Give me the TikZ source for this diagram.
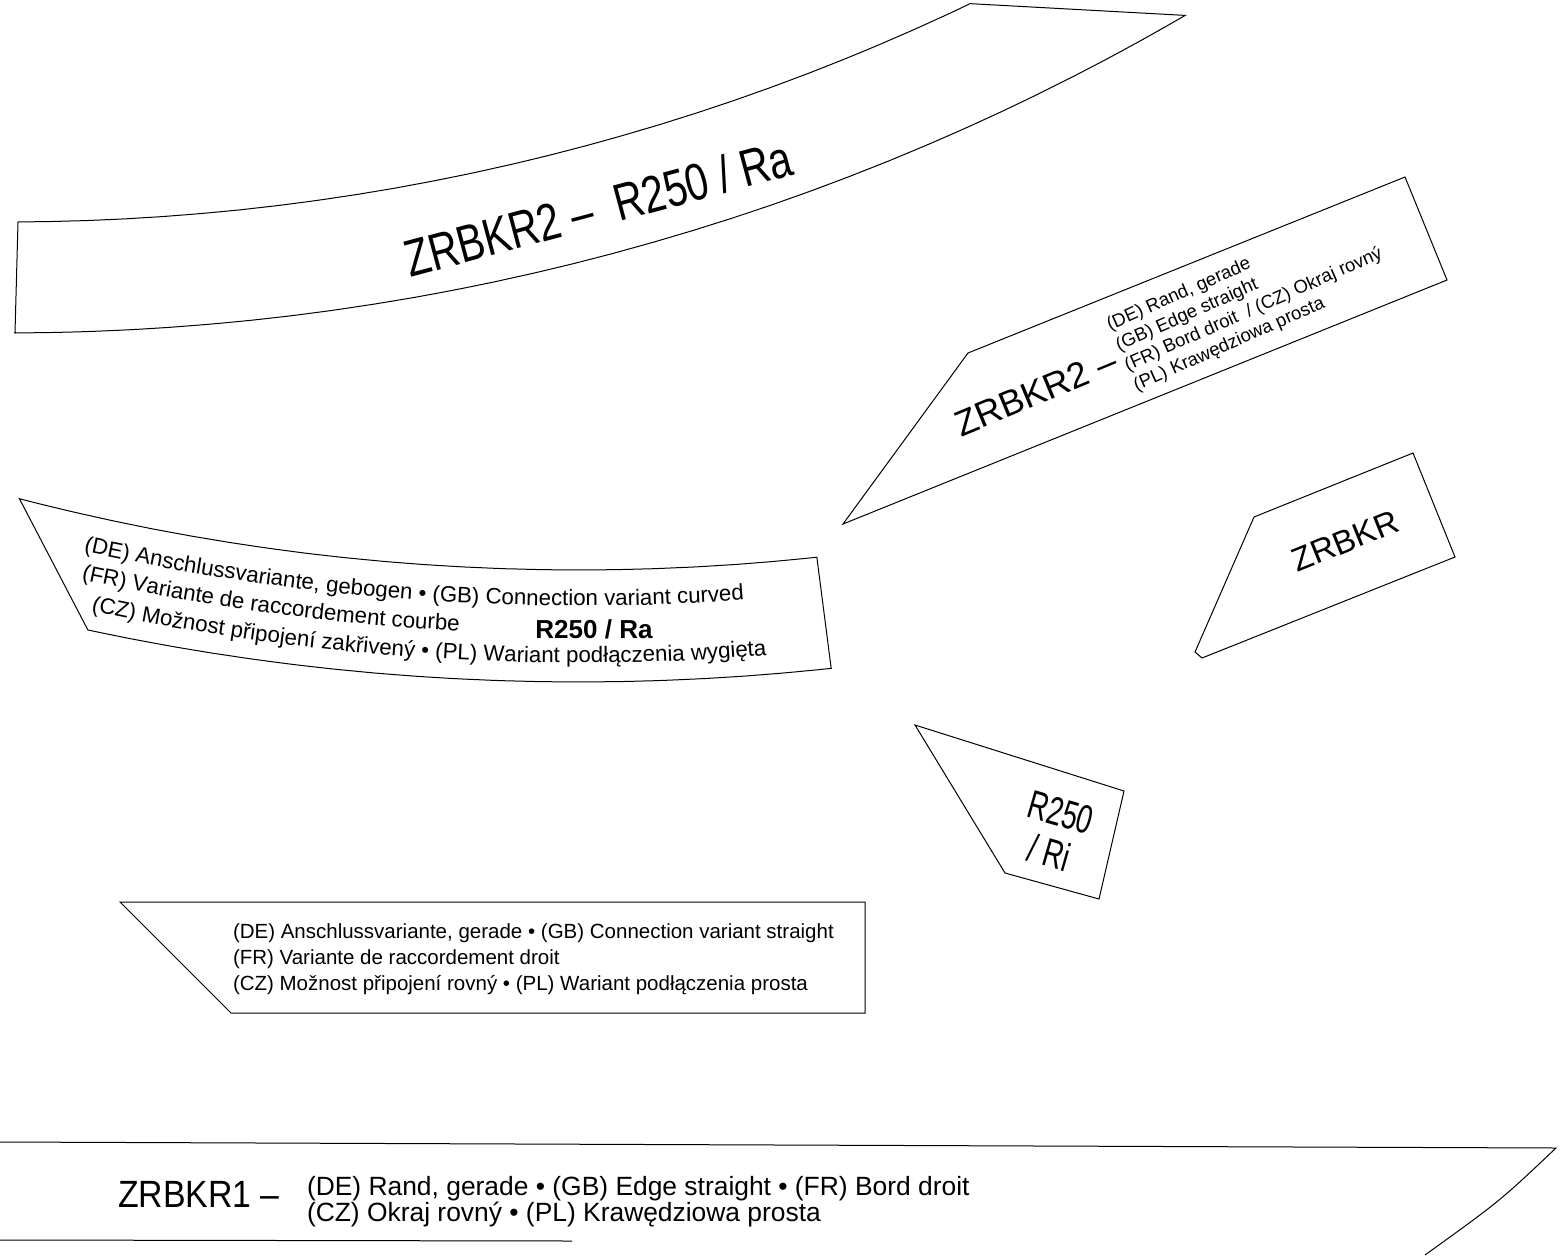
\documentclass[tikz,border=0pt]{standalone}
\usepackage{fontspec}
\setmainfont{Liberation Sans}
\usepackage{graphicx}
\usetikzlibrary{decorations.text}

\newcommand{\pxfont}[2]{\fontsize{#1}{#2}\selectfont}

\begin{document}
\begin{tikzpicture}[
    x=1pt, y=-1pt,
    outline/.style={draw, line width=1pt, line join=miter},
    lbl/.style={inner sep=0pt, outer sep=0pt},
    small label/.style={lbl, anchor=base west, font=\pxfont{20.5}{26}},
    edge label/.style={lbl, anchor=base west, font=\pxfont{26.4}{30}},
    curved text/.style={decorate, decoration={text along path, text align=left, text={|\pxfont{22.3}{26}|#1}}}
]
    \useasboundingbox (0,0) rectangle (1560,1255);

    % Curved strip, top
    \draw[outline] (18,222) -- (15,333)
        -- plot[domain=89.83:59.81, samples=90] ({8+2341*cos(\x)}, {-2008+2341*sin(\x)})
        -- plot[domain=64.44:89.74, samples=90] ({8+2230*cos(\x)}, {-2008+2230*sin(\x)})
        -- cycle;
    \node[lbl, rotate=15, font=\pxfont{52}{56}] (strip text) at (598,208) {\scalebox{0.78}[1]{ZRBKR2 –\ \ R250 / Ra}};

    % Curved strip, left
    \draw[outline] plot[domain=104.5:83.89, samples=60] ({579+2235*cos(\x)}, {-1665+2235*sin(\x)})
        -- plot[domain=83.83:102.08, samples=60] ({579+2347*cos(\x)}, {-1665+2347*sin(\x)})
        -- cycle;
    \path[curved text={(DE) Anschlussvariante, gebogen • (GB) Connection variant curved}]
        plot[domain=102.6:78, samples=80] ({579+2271*cos(\x)}, {-1665+2271*sin(\x)});
    \path[curved text={(FR) Variante de raccordement courbe}]
        plot[domain=102.5:78, samples=80] ({579+2299*cos(\x)}, {-1665+2299*sin(\x)});
    \path[curved text={(CZ) Možnost připojení zakřivený • (PL) Wariant podłączenia wygięta}]
        plot[domain=102.1:78, samples=80] ({579+2328*cos(\x)}, {-1665+2328*sin(\x)});
    \node[lbl, font=\pxfont{26}{30}\bfseries] (ra label) at (594,629) {R250 / Ra};

    % Edge piece ZRBKR2
    \draw[outline] (843,524) -- (968,353) -- (1405,177) -- (1447,280) -- cycle;
    \node[lbl, rotate=22.5, anchor=base west, font=\pxfont{36}{40}] (zrbkr2) at (961,437) {ZRBKR2 –};
    \node[lbl, rotate=24, anchor=west, align=left, inner xsep=7pt, font=\pxfont{18.5}{22}] (zrbkr2 edge) at (zrbkr2.east)
        {(DE) Rand, gerade\\(GB) Edge straight\\(FR) Bord droit\ \ / (CZ) Okraj rovný\\(PL) Krawędziowa prosta};

    % Piece ZRBKR
    \draw[outline] (1254,517) -- (1413,453) -- (1455,557) -- (1202,658) -- (1195,652) -- cycle;
    \node[lbl, rotate=22, font=\pxfont{33}{36}] (zrbkr) at (1345,541) {ZRBKR};

    % Piece R250 / Ri
    \draw[outline] (915,725) -- (1124,791) -- (1099,899) -- (1005,873) -- cycle;
    \node[lbl, rotate=-16, align=center, font=\pxfont{40}{42}] (ri label) at (1055,833)
        {\scalebox{0.69}[1]{R250}\\\scalebox{0.69}[1]{/ Ri}};

    % Straight connection piece
    \draw[outline] (120,902) -- (865,902) -- (865,1013) -- (231,1013) -- cycle;
    \node[small label] (straight de) at (233,938) {(DE) Anschlussvariante, gerade • (GB) Connection variant straight};
    \node[small label] (straight fr) at ([yshift=-26pt]straight de.base west) {(FR) Variante de raccordement droit};
    \node[small label] (straight cz) at ([yshift=-26pt]straight fr.base west) {(CZ) Možnost připojení rovný • (PL) Wariant podłączenia prosta};

    % Straight strip, bottom
    \draw[outline] (0,1142) -- (1556,1148) .. controls (1500,1201) .. (1425,1255);
    \draw[outline] (0,1240) -- (572,1241);
    \node[lbl, anchor=base west, font=\pxfont{38}{42}] (zrbkr1) at (118,1207) {\scalebox{0.89}[1]{ZRBKR1 –}};
    \node[edge label] (zrbkr1 de) at (307,1195) {(DE) Rand, gerade • (GB) Edge straight • (FR) Bord droit};
    \node[edge label] (zrbkr1 cz) at ([yshift=-26pt]zrbkr1 de.base west) {(CZ) Okraj rovný • (PL) Krawędziowa prosta};
\end{tikzpicture}
\end{document}
